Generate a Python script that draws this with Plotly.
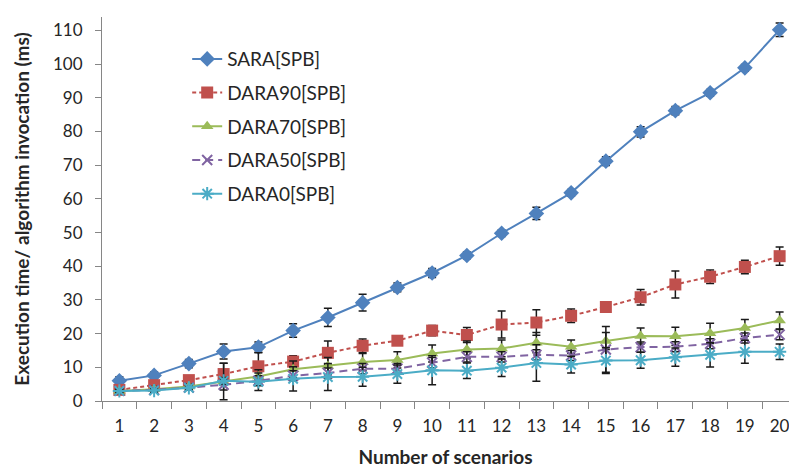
import plotly.graph_objects as go

scenarios = [str(i) for i in range(1, 21)]

sara = [6.0, 7.6, 11.1, 14.7, 16.0, 20.9, 24.8, 29.2, 33.7, 38.0, 43.2, 49.8, 55.7, 61.8, 71.2, 79.9, 86.2, 91.5, 98.9, 110.2]
sara_err = [1.2, 1.0, 1.2, 2.2, 1.5, 2.0, 2.7, 2.5, 1.3, 1.3, 1.0, 1.0, 1.8, 1.0, 1.3, 1.5, 1.2, 1.0, 1.0, 2.0]

dara90 = [3.3, 4.7, 6.2, 8.0, 10.3, 11.7, 14.3, 16.4, 17.9, 20.9, 19.6, 22.7, 23.3, 25.3, 27.9, 30.8, 34.6, 36.9, 39.8, 43.0]
dara90_err = [1.0, 1.0, 1.0, 3.2, 4.0, 1.7, 3.5, 2.0, 1.2, 1.5, 2.2, 4.0, 3.8, 2.0, 0.8, 2.3, 4.0, 2.0, 2.0, 2.7]

dara70 = [3.0, 3.5, 4.3, 5.8, 7.3, 9.4, 10.4, 11.6, 12.2, 14.1, 15.3, 15.6, 17.3, 16.1, 17.8, 19.3, 19.2, 20.1, 21.7, 23.9]
dara70_err = [0.8, 0.8, 0.8, 5.4, 2.0, 2.5, 2.5, 2.5, 2.4, 2.5, 2.5, 2.5, 3.0, 2.0, 2.5, 2.4, 2.7, 3.0, 2.5, 2.5]

dara50 = [3.0, 3.3, 4.0, 4.8, 6.0, 7.5, 8.3, 9.6, 9.6, 11.4, 13.1, 13.1, 13.7, 13.5, 15.3, 16.0, 16.1, 17.0, 18.7, 19.7]
dara50_err = [0.5, 0.5, 0.5, 1.5, 1.5, 1.5, 1.5, 1.5, 1.5, 1.5, 1.5, 1.5, 1.5, 1.5, 6.8, 1.5, 1.5, 1.5, 1.5, 1.5]

dara0 = [3.0, 3.1, 3.9, 6.0, 5.7, 6.6, 7.1, 7.2, 8.0, 9.1, 9.0, 9.9, 11.3, 10.8, 12.0, 12.1, 13.0, 13.7, 14.6, 14.6]
dara0_err = [0.5, 0.5, 0.6, 1.0, 2.6, 3.6, 4.0, 2.8, 2.7, 4.3, 2.3, 2.6, 5.4, 2.5, 3.8, 2.4, 2.7, 3.6, 3.4, 2.3]

series = [
    ("SARA[SPB]", sara, sara_err, "#4F81BD", "solid", "diamond", 12, None),
    ("DARA90[SPB]", dara90, dara90_err, "#C0504D", "4px,3px", "square", 12, None),
    ("DARA70[SPB]", dara70, dara70_err, "#9BBB59", "solid", "triangle-up", 11, None),
    ("DARA50[SPB]", dara50, dara50_err, "#8064A2", "8px,5px", "x-thin", 10, 2),
    ("DARA0[SPB]", dara0, dara0_err, "#4BACC6", "solid", "asterisk", 11, 2),
]

FONT = "Lato, Noto Sans, sans-serif"

fig = go.Figure()
for i, (name, vals, errs, color, dash, sym, size, lw) in enumerate(series):
    marker = dict(symbol=sym, size=size, color=color)
    if lw:
        marker["line"] = dict(color=color, width=lw)
    fig.add_trace(go.Scatter(
        x=scenarios, y=vals, name=name, mode="lines+markers",
        legendgroup=f"g{i}",
        line=dict(color=color, width=2, dash=dash),
        marker=marker,
        error_y=dict(type="data", array=errs, visible=True, color="#1a1a1a", thickness=1.5, width=4),
    ))

axis_font = dict(family=FONT, size=17, color="#262626")

fig.update_layout(
    width=789, height=469,
    margin=dict(l=102, r=0, t=17, b=68),
    paper_bgcolor="white", plot_bgcolor="white",
    font=dict(family=FONT, color="#262626"),
    showlegend=True,
    legend=dict(
        x=0.124, y=0.94, xanchor="left", yanchor="top",
        font=dict(family=FONT, size=19, color="#262626"),
        tracegroupgap=6, bgcolor="rgba(0,0,0,0)",
    ),
    xaxis=dict(
        type="category", categoryorder="array", categoryarray=scenarios,
        range=[-0.5, 19.27], tickson="boundaries", ticks="outside", ticklen=7,
        tickcolor="#868686", showline=True, linecolor="#868686", linewidth=1,
        showgrid=False, zeroline=False, tickfont=axis_font, ticklabelstandoff=10,
        title=dict(text="<b>Number of scenarios</b>", font=dict(family=FONT, size=19, color="#262626"), standoff=15),
    ),
    yaxis=dict(
        range=[0, 114], tickvals=list(range(0, 111, 10)), ticks="outside", ticklen=6,
        tickcolor="#868686", showline=True, linecolor="#868686", linewidth=1,
        showgrid=False, zeroline=False, tickfont=axis_font, ticklabelstandoff=9,
        title=dict(text="<b>Execution time/ algorithm invocation (ms)</b>", font=dict(family=FONT, size=19, color="#262626"), standoff=18),
    ),
)

fig.write_html("out.html")
